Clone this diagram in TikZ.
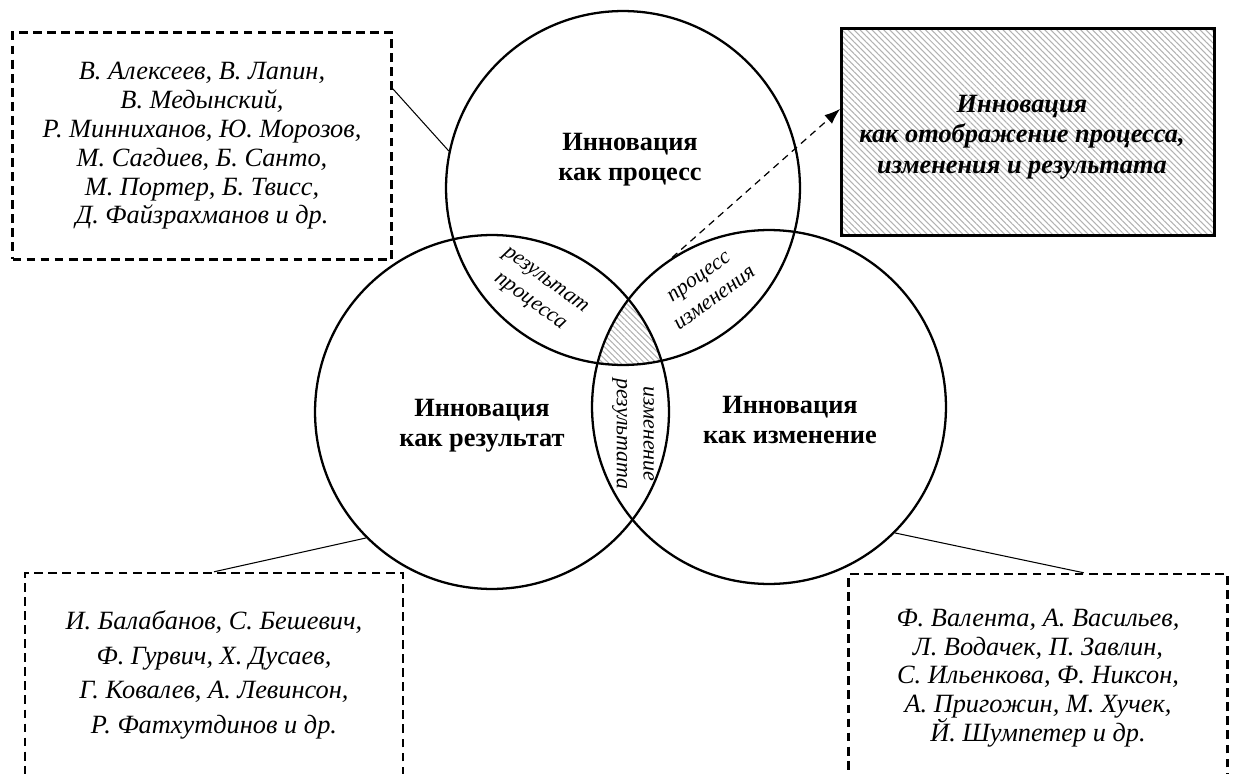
\documentclass[tikz,border=0pt]{standalone}
\usepackage{fontspec}
\setmainfont{Liberation Serif}
\usetikzlibrary{calc,arrows.meta,patterns.meta}
\tikzset{
  venn/.style={circle,draw=black,line width=1.3pt,minimum size=7.08cm,inner sep=0pt},
  namebox/.style={draw=black,line width=1.4pt,dash pattern=on 5pt off 3pt,align=center,inner sep=0pt,font=\fontsize{15}{16.4}\selectfont\itshape},
  hatch/.style={pattern={Lines[angle=135,distance=2.4pt,line width=0.6pt]},pattern color=gray!60},
  lens/.style={align=center,inner sep=0pt,font=\fontsize{12.5}{15.2}\selectfont\itshape},
  title/.style={align=center,inner sep=0pt,font=\fontsize{15}{17}\selectfont\bfseries},
  pointer/.style={line width=0.7pt,dash pattern=on 4pt off 3pt,-{Latex[length=9pt,width=6.5pt]}},
}
\def\drawlead{\draw[line width=0.6pt]}

\begin{document}
\begin{tikzpicture}[x=0.02cm,y=-0.02cm]
\useasboundingbox (0,0) rectangle (1235,774);
\clip (0,0) rectangle (1235,774);
\coordinate (pc) at (623,188);
\coordinate (rc) at (492,412);
\coordinate (cc) at (769,407);
% common part of the three
\begin{scope}
\clip (pc) circle (177);
\clip (rc) circle (177);
\fill[hatch] (cc) circle (177);
\end{scope}
\node[venn] (proc) at (pc) {};
\node[venn] (res) at (rc) {};
\node[venn] (chg) at (cc) {};
\node[title] (proctext) at (630,160) {Инновация\\как процесс};
\node[title] (restext) at (482,426) {Инновация\\как результат};
\node[title] (chgtext) at (790,420) {Инновация\\как изменение};
\node[lens,rotate=-36] (resproc) at (537,292) {результат\\процесса};
\node[lens,rotate=36] (procchg) at (707,288) {процесс\\изменения};
\node[lens,rotate=-90] (chgres) at (633,434) {изменение\\результата};
\node[draw=black,line width=1.6pt,hatch,minimum width=7.46cm,minimum height=4.14cm] (synth) at (1028,132) {};
\node[align=center,font=\fontsize{15}{17.2}\selectfont\bfseries\itshape] (synthtext) at (1022,137)
  {Инновация\\как отображение процесса,\\изменения и результата};
\node[namebox,minimum width=7.58cm,minimum height=4.54cm] (authp) at (202,146)
  {В. Алексеев, В. Лапин,\\В. Медынский,\\Р. Минниханов, Ю. Морозов,\\М. Сагдиев, Б. Санто,\\М. Портер, Б. Твисс,\\Д. Файзрахманов и др.};
\node[namebox,minimum width=7.56cm,minimum height=4.08cm,
  font=\fontsize{15}{19.8}\selectfont\itshape] (authr) at (214,675)
  {И. Балабанов, С. Бешевич,\\Ф. Гурвич, Х. Дусаев,\\Г. Ковалев, А. Левинсон,\\Р. Фатхутдинов и др.};
\node[namebox,minimum width=7.58cm,minimum height=4.16cm] (authc) at (1038,678)
  {Ф. Валента, А. Васильев,\\Л. Водачек, П. Завлин,\\С. Ильенкова, Ф. Никсон,\\А. Пригожин, М. Хучек,\\Й. Шумпетер и др.};
\drawlead ($(authp.north east)!0.25!(authp.south east)$) -- (proc.168);
\drawlead (authr.north) -- (res.225);
\drawlead (chg.315) -- ($(authc.north west)!0.62!(authc.north east)$);
\draw[pointer] (chg.123) -- ($(synth.north west)!0.39!(synth.south west)$);
\end{tikzpicture}
\end{document}
